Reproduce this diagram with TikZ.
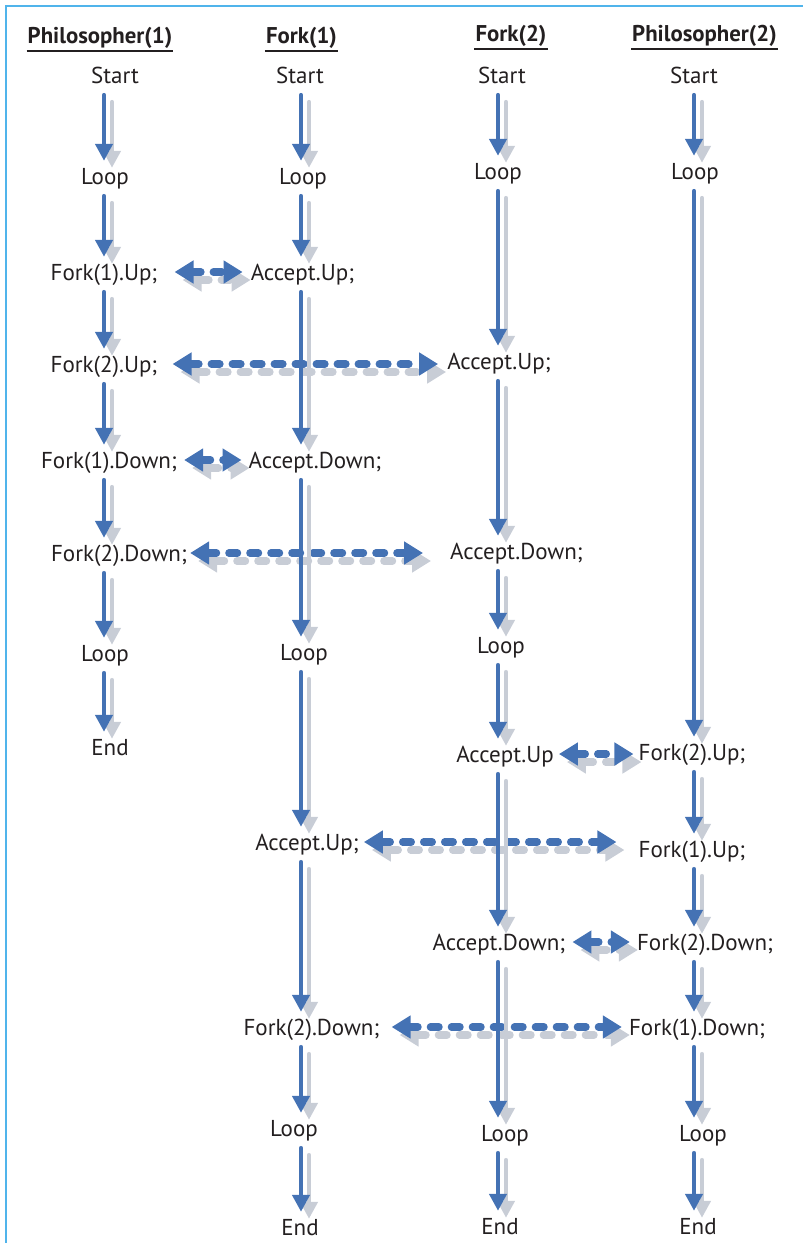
\documentclass[tikz,border=0pt]{standalone}
\usepackage{fontspec}
\setmainfont{PT Sans}
\usetikzlibrary{arrows.meta,calc}
\definecolor{ablue}{RGB}{68,114,180}
\definecolor{agrey}{RGB}{200,205,214}
\definecolor{fblue}{RGB}{80,180,235}
\definecolor{txt}{RGB}{35,31,32}
\begin{document}
\begin{tikzpicture}[x=1pt,y=-1pt,
 lbl/.style={anchor=base, inner sep=0pt, text height=16pt, text depth=0pt, font=\fontsize{23}{27}\selectfont, text=txt},
 hdr/.style={anchor=base, inner sep=0pt, text depth=0pt, font=\fontsize{22.8}{27}\selectfont\bfseries, text=txt},
 uline/.style={draw=txt, line width=2.2pt},
 vline/.style={line width=4.6pt, line cap=round, -{Triangle[width=17pt,length=17pt]}, shorten <=12pt, shorten >=7pt},
 vblue/.style={vline, draw=ablue},
 vgrey/.style={vline, draw=agrey, transform canvas={shift={(8pt,-7pt)}}},
 dline/.style={line width=7.5pt, line cap=round, dash pattern=on 8.5pt off 12.5pt, {Triangle[width=22pt,length=19pt]}-{Triangle[width=22pt,length=19pt]}},
 dblue/.style={dline, draw=ablue},
 dgrey/.style={dline, draw=agrey, transform canvas={shift={(8pt,-8pt)}}},
]
\useasboundingbox (0,0) rectangle (803,1243);
% frame
\draw[fblue, line width=2pt] (6,1243) -- (6,6) -- (803,6);
% column axes
\coordinate (c1) at (104,0);
\coordinate (c2) at (301,0);
\coordinate (c3) at (498,0);
\coordinate (c4) at (694,0);
% headers
\node[hdr] (h1) at (100,43) {Philosopher(1)};
\node[hdr] (h2) at (301.5,43) {Fork(1)};
\node[hdr] (h3) at (511,41) {Fork(2)};
\node[hdr] (h4) at (704.5,41) {Philosopher(2)};
\foreach \h in {h1,h2,h3,h4}
  \draw[uline] ($(\h.south west)+(-1,7.5)$) -- ($(\h.south east)+(1,7.5)$);
% column 1
\node[lbl] (p1s) at (115,83) {Start};
\node[lbl] (p1l1) at (105,184) {Loop};
\node[lbl] (p1f1u) at (104,280) {Fork(1).Up;};
\node[lbl] (p1f2u) at (104,372) {Fork(2).Up;};
\node[lbl] (p1f1d) at (109,468) {Fork(1).Down;};
\node[lbl] (p1f2d) at (119,561) {Fork(2).Down;};
\node[lbl] (p1l2) at (105,661) {Loop};
\node[lbl] (p1e) at (110,755) {End};
% column 2
\node[lbl] (f1s) at (300,83) {Start};
\node[lbl] (f1l1) at (303,184) {Loop};
\node[lbl] (f1au) at (302.5,280) {Accept.Up;};
\node[lbl] (f1ad) at (315,468) {Accept.Down;};
\node[lbl] (f1l2) at (304,660) {Loop};
\node[lbl] (f1au2) at (307,850) {Accept.Up;};
\node[lbl] (f1f2d) at (311.5,1035) {Fork(2).Down;};
\node[lbl] (f1l3) at (294,1136) {Loop};
\node[lbl] (f1e) at (300,1235) {End};
% column 3
\node[lbl] (f2s) at (502,83) {Start};
\node[lbl] (f2l1) at (498,179) {Loop};
\node[lbl] (f2au) at (499,369) {Accept.Up;};
\node[lbl] (f2ad) at (516.5,559) {Accept.Down;};
\node[lbl] (f2l2) at (501,653) {Loop};
\node[lbl] (f2au2) at (505,762) {Accept.Up};
\node[lbl] (f2ad2) at (499,950) {Accept.Down;};
\node[lbl] (f2l3) at (505,1141) {Loop};
\node[lbl] (f2e) at (500,1234) {End};
% column 4
\node[lbl] (p2s) at (694,83) {Start};
\node[lbl] (p2l1) at (695,179) {Loop};
\node[lbl] (p2f2u) at (692,760) {Fork(2).Up;};
\node[lbl] (p2f1u) at (692,857) {Fork(1).Up;};
\node[lbl] (p2f2d) at (705,950) {Fork(2).Down;};
\node[lbl] (p2f1d) at (697,1035) {Fork(1).Down;};
\node[lbl] (p2l2) at (703,1141) {Loop};
\node[lbl] (p2e) at (698,1234) {End};
% arrows: shadows first, then blue
\foreach \st in {dgrey,dblue}{
  \draw[\st, shorten <=17pt, shorten >=8pt] (p1f1u.east) -- (p1f1u.east -| f1au.west);
  \draw[\st, shorten <=15pt, shorten >=9pt] (p1f2u.east) -- (p1f2u.east -| f2au.west);
  \draw[\st, shorten <=7pt, shorten >=7pt] (p1f1d.east) -- (p1f1d.east -| f1ad.west);
  \draw[\st, shorten <=3pt, shorten >=27pt] (p1f2d.east) -- (p1f2d.east -| f2ad.west);
  \draw[\st, shorten <=5pt, shorten >=5pt] (f2au2.east) -- (f2au2.east -| p2f2u.west);
  \draw[\st, shorten <=5pt, shorten >=22pt] (f1au2.east) -- (f1au2.east -| p2f1u.west);
  \draw[\st, shorten <=7pt, shorten >=7pt] (f2ad2.east) -- (f2ad2.east -| p2f2d.west);
  \draw[\st, shorten <=12pt, shorten >=7pt] (f1f2d.east) -- (f1f2d.east -| p2f1d.west);
}
\foreach \st in {vgrey,vblue}{
  \foreach \a/\b/\c in {p1s/p1l1/c1, p1l1/p1f1u/c1, p1f1u/p1f2u/c1, p1f2u/p1f1d/c1, p1f1d/p1f2d/c1, p1f2d/p1l2/c1, p1l2/p1e/c1,
     f1s/f1l1/c2, f1l1/f1au/c2, f1au/f1ad/c2, f1ad/f1l2/c2, f1l2/f1au2/c2, f1au2/f1f2d/c2, f1f2d/f1l3/c2, f1l3/f1e/c2,
     f2s/f2l1/c3, f2l1/f2au/c3, f2au/f2ad/c3, f2ad/f2l2/c3, f2l2/f2au2/c3, f2au2/f2ad2/c3, f2ad2/f2l3/c3, f2l3/f2e/c3,
     p2s/p2l1/c4, p2l1/p2f2u/c4, p2f2u/p2f1u/c4, p2f1u/p2f2d/c4, p2f2d/p2f1d/c4, p2f1d/p2l2/c4, p2l2/p2e/c4}
    \draw[\st] (\a.south -| \c) -- (\b.north -| \c);
}
\end{tikzpicture}
\end{document}
